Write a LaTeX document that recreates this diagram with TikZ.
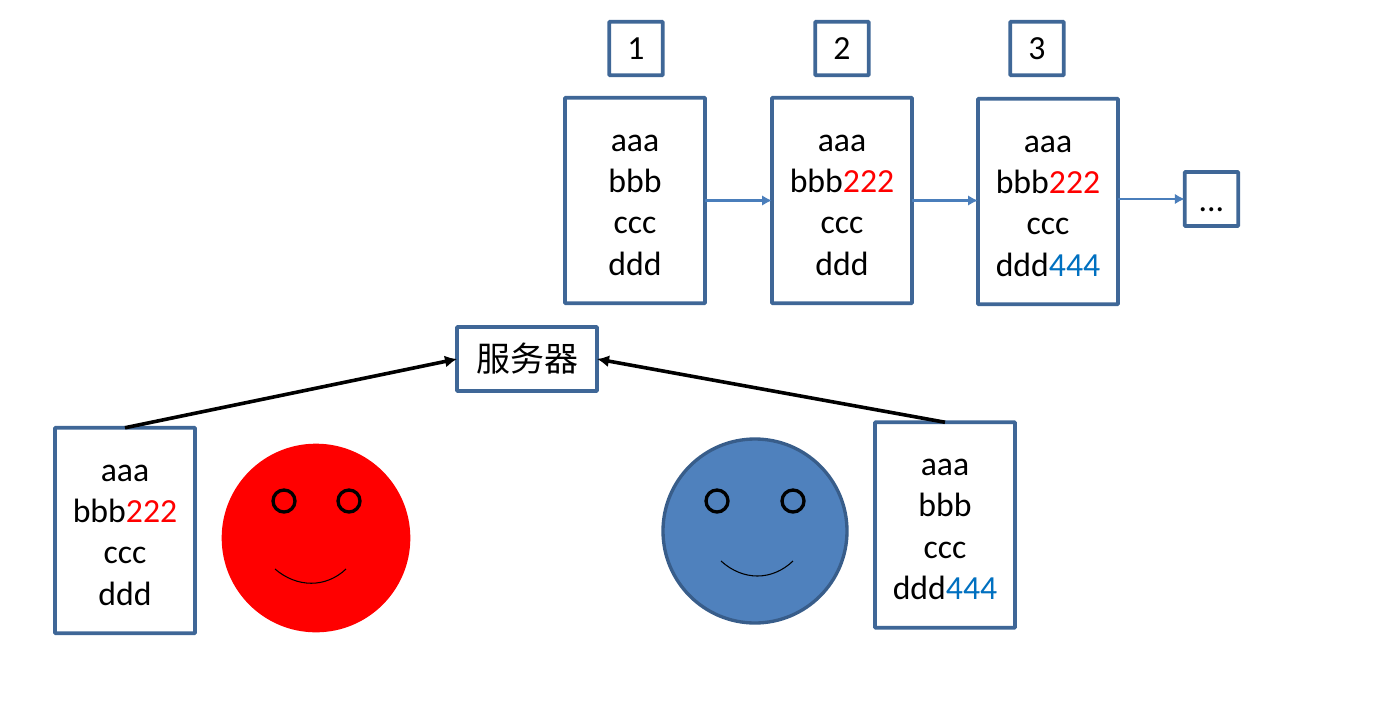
\documentclass[tikz,border=0pt]{standalone}
\usepackage{fontspec}
\setmainfont{Carlito}
\newfontfamily\cjkf{Noto Sans CJK SC}[Scale=1]
\usetikzlibrary{arrows.meta}
\definecolor{boxblue}{HTML}{3F6797}
\definecolor{linkblue}{HTML}{4A7EBB}
\definecolor{faceblue}{HTML}{4F81BD}
\definecolor{faceline}{HTML}{385D8A}
\definecolor{numblue}{HTML}{0070C0}
\newcommand{\rd}[1]{\textcolor{red}{#1}}
\newcommand{\bl}[1]{\textcolor{numblue}{#1}}
\newcommand{\topstrut}{\rule{0pt}{19pt}}
\tikzset{
  x=0.75pt,y=-0.75pt,
  every node/.style={inner sep=0pt,outer sep=0pt},
  framed/.style={draw=boxblue,line width=2.9pt,rounded corners=0.6pt,fill=white,anchor=center},
  pagebox/.style={framed,minimum width=140pt*0.75,minimum height=205.5pt*0.75,align=center,
    font=\fontsize{25.3pt}{31pt}\selectfont},
  tagbox/.style={framed,minimum width=53.5pt*0.75,minimum height=53.5pt*0.75,font=\fontsize{25.3pt}{31pt}\selectfont},
  link/.style={draw=linkblue,line width=1.7pt,-{Latex[length=7.5pt,width=8pt]}},
  push/.style={draw=black,line width=2.7pt,-{Latex[length=9pt,width=9pt]}},
  eye/.style={circle,draw=black,line width=2.5pt,minimum size=16.5pt},
  mouth/.style={draw=black,line width=0.8pt},
}
\begin{document}
\begin{tikzpicture}
\useasboundingbox (0,0) rectangle (1397,708);
\node[tagbox] (t1) at (636,48.5) {1};
\node[tagbox] (t2) at (842,48.5) {2};
\node[tagbox] (t3) at (1037,48.5) {3};
\node[pagebox] (p1) at (635,200.5) {\topstrut aaa\\bbb\\ccc\\ddd};
\node[pagebox] (p2) at (842,200.5) {\topstrut aaa\\bbb\rd{222}\\ccc\\ddd};
\node[pagebox] (p3) at (1048,201.5) {\topstrut aaa\\bbb\rd{222}\\ccc\\ddd\bl{444}};
\node[tagbox,minimum height=54pt*0.75] (more) at (1211.5,199) {\raisebox{-9pt}[0pt][0pt]{...}};
\node[framed,minimum width=140pt*0.75,minimum height=64pt*0.75,font=\cjkf\fontsize{25.5pt}{30pt}\selectfont] (srv) at (527,359) {服务器};
\node[pagebox] (u1) at (125,530.5) {\topstrut aaa\\bbb\rd{222}\\ccc\\ddd};
\node[pagebox] (u2) at (945,525) {\topstrut aaa\\bbb\\ccc\\ddd\bl{444}};
\node[circle,fill=red,minimum size=141.5pt] (f1) at (316,538) {};
\node[circle,fill=faceblue,draw=faceline,line width=2.5pt,minimum size=138pt] (f2) at (755,531) {};
\node[eye] (e1) at (284,501) {};
\node[eye] (e2) at (349,501) {};
\node[eye] (e3) at (717,501) {};
\node[eye] (e4) at (793,501) {};
\coordinate (m1a) at (275,569);
\coordinate (m1b) at (346,569);
\coordinate (m2a) at (721,561);
\coordinate (m2b) at (793,561);
\draw[mouth] (m1a) .. controls (297,588) and (326,588) .. (m1b);
\draw[mouth] (m2a) .. controls (743,581) and (772,581) .. (m2b);
\draw[link] (p1.east) -- (p2.west);
\draw[link] (p2.east) -- (p2.east -| p3.west);
\draw[link] (p3.east |- more.west) -- (more.west);
\draw[push] (u1.north) -- (srv.west);
\draw[push] (u2.north) -- (srv.east);
\end{tikzpicture}
\end{document}
